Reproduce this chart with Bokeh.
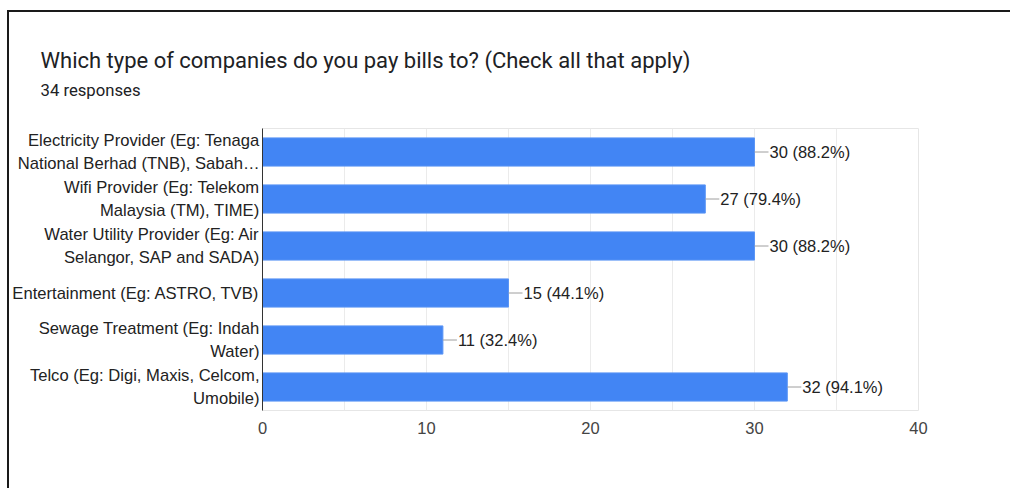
from bokeh.plotting import figure
from bokeh.models import (ColumnDataSource, FactorRange, Range1d, Title,
                          SingleIntervalTicker, InlineStyleSheet)
from bokeh.embed import file_html
from bokeh.resources import INLINE
from bokeh.core.properties import value

# Survey answers
categories = [
    "Electricity Provider (Eg: Tenaga\nNational Berhad (TNB), Sabah\u2026",
    "Wifi Provider (Eg: Telekom\nMalaysia (TM), TIME)",
    "Water Utility Provider (Eg: Air\nSelangor, SAP and SADA)",
    "Entertainment (Eg: ASTRO, TVB)",
    "Sewage Treatment (Eg: Indah\nWater)",
    "Telco (Eg: Digi, Maxis, Celcom,\nUmobile)",
]
counts = [30, 27, 30, 15, 11, 32]
total_responses = 34
x_ticks = [0, 10, 20, 30, 40]

title_text = "Which type of companies do you pay bills to? (Check all that apply)"
subtitle_text = f"{total_responses} responses"

labels = [f"{c} ({c / total_responses * 100:.1f}%)" for c in counts]

W, H = 1010, 488
LEFT, RIGHT, TOP, BOTTOM = 262, 92, 128, 78
FRAME_W = W - LEFT - RIGHT

x_min, x_max = x_ticks[0], x_ticks[-1]
px_per_unit = FRAME_W / (x_max - x_min)
leader_len = 14 / px_per_unit

src = ColumnDataSource(dict(
    cat=categories,
    n=counts,
    lead_end=[c + leader_len for c in counts],
    label=labels,
))

# card border painted as the figure's background (top and left rules);
# the border area of the canvas is left transparent so it shows through
card_css = InlineStyleSheet(css="""
:host {
  background:
    linear-gradient(#1a1a1a, #1a1a1a) 7px 10px / 2px 478px no-repeat,
    linear-gradient(#1a1a1a, #1a1a1a) 7px 10px / 1003px 2px no-repeat,
    #ffffff;
}
""")

p = figure(
    width=W, height=H,
    y_range=FactorRange(factors=list(reversed(categories))),
    x_range=Range1d(x_min, x_max),
    output_backend="svg",
    toolbar_location=None,
    min_border_left=LEFT, min_border_right=RIGHT,
    min_border_top=TOP, min_border_bottom=BOTTOM,
    background_fill_color="white",
    border_fill_color=None,
    outline_line_color="#e6e6e6",
    stylesheets=[card_css],
)

# bars
p.hbar(y="cat", right="n", left=0, height=0.6, source=src,
       fill_color="#4285f4", line_color="#5b95f5", line_width=1)

# leader lines and value labels
p.segment(x0="n", y0="cat", x1="lead_end", y1="cat", source=src,
          line_color="#9e9e9e", line_width=1)
p.text(x="lead_end", y="cat", text="label", source=src,
       x_offset=1, text_baseline="middle", text_align="left",
       text_font=value("Liberation Sans"), text_font_size="16.5px",
       text_color="#222222")

# axes
p.xaxis.ticker = x_ticks
p.xaxis.axis_line_color = None
p.xaxis.major_tick_line_color = None
p.xaxis.minor_tick_line_color = None
p.xaxis.major_label_text_font = "Liberation Sans"
p.xaxis.major_label_text_font_size = "16.5px"
p.xaxis.major_label_text_color = "#444444"
p.xaxis.major_label_standoff = 5

p.yaxis.axis_line_color = "#333333"
p.yaxis.axis_line_width = 1
p.yaxis.major_tick_line_color = None
p.yaxis.minor_tick_line_color = None
p.yaxis.major_label_text_font = "Liberation Sans"
p.yaxis.major_label_text_font_size = "16.6px"
p.yaxis.major_label_text_color = "#222222"
p.yaxis.major_label_standoff = -3
p.yaxis.major_label_text_line_height = 1.22

# grid
p.ygrid.grid_line_color = None
p.xgrid.ticker = SingleIntervalTicker(interval=5)
p.xgrid.grid_line_color = "#ebebeb"
p.xgrid.grid_line_width = 1

# heading, stacked upward from the frame: gap, response count, question
p.add_layout(Title(text=" ", standoff=16,
                   text_font="Roboto", text_font_size="10px"), "above")
p.add_layout(Title(text=subtitle_text, align="left", offset=40 - LEFT,
                   standoff=0,
                   text_font="Roboto", text_font_size="16.7px",
                   text_font_style="normal", text_color="#202124"), "above")
p.add_layout(Title(text=title_text, align="left", offset=40 - LEFT,
                   standoff=11,
                   text_font="Roboto", text_font_size="22px",
                   text_font_style="normal", text_color="#202124"), "above")

open("out.html", "w").write(file_html(p, INLINE))
